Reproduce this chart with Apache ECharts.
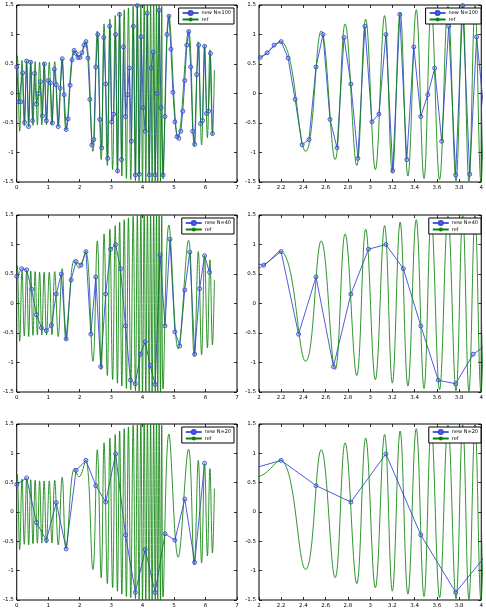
<!DOCTYPE html>
<html>
<head>
<meta charset="utf-8">
<script src="https://cdn.jsdelivr.net/npm/echarts@6/dist/echarts.min.js"></script>
<style>
html, body { margin: 0; padding: 0; background: #fff; }
#main { width: 486px; height: 609px; }
</style>
</head>
<body>
<div id="main"></div>
<script>
// sample positions and values of the "new" curves
var x100 = [0, 0.063, 0.126, 0.188, 0.251, 0.314, 0.377, 0.440, 0.503, 0.565,
    0.628, 0.691, 0.754, 0.817, 0.880, 0.942, 1.005, 1.068, 1.131, 1.194,
    1.257, 1.319, 1.382, 1.445, 1.508, 1.571, 1.634, 1.696, 1.759, 1.822,
    1.885, 1.948, 2.011, 2.073, 2.136, 2.199, 2.262, 2.325, 2.388, 2.450,
    2.513, 2.576, 2.639, 2.702, 2.765, 2.827, 2.890, 2.953, 3.016, 3.079,
    3.142, 3.204, 3.267, 3.330, 3.393, 3.456, 3.519, 3.581, 3.644, 3.707,
    3.770, 3.833, 3.896, 3.958, 4.021, 4.084, 4.147, 4.210, 4.273, 4.335,
    4.398, 4.461, 4.524, 4.587, 4.650, 4.712, 4.775, 4.838, 4.901, 4.964,
    5.027, 5.089, 5.152, 5.215, 5.278, 5.341, 5.404, 5.466, 5.529, 5.592,
    5.655, 5.718, 5.781, 5.843, 5.906, 5.969, 6.032, 6.095, 6.158, 6.220];
var y100 = [0.45, -0.14, -0.14, 0.35, -0.49, 0.55, -0.56, 0.53, -0.46, 0.34,
    -0.18, 0.0, 0.2, -0.38, 0.5, -0.46, 0.22, 0.18, -0.5, 0.41,
    0.15, -0.56, 0.09, 0.59, -0.02, -0.61, -0.43, 0.14, 0.57, 0.73,
    0.68, 0.61, 0.61, 0.69, 0.82, 0.88, 0.6, -0.1, -0.87, -0.78,
    0.45, 1.0, -0.44, -0.92, 0.95, 0.16, -1.1, 1.14, -0.48, -0.35,
    1.0, -1.31, 1.34, -1.12, 0.79, -0.39, -0.02, 0.43, -0.81, 1.14,
    -1.38, 1.49, -1.37, 0.96, -0.24, -0.64, 1.36, -1.38, 0.43, 0.7,
    -1.38, 0.0, 1.41, -0.24, -1.38, -0.39, 1.0, 1.31, 0.75, 0.02,
    -0.48, -0.73, -0.76, -0.64, -0.3, 0.22, 0.82, 1.05, 0.45, -0.64,
    -0.86, 0.32, 0.82, -0.51, -0.46, 0.8, -0.34, -0.3, 0.68, -0.68];

var x40 = [0, 0.157, 0.314, 0.471, 0.628, 0.785, 0.942, 1.100, 1.257, 1.414,
    1.571, 1.728, 1.885, 2.042, 2.199, 2.356, 2.513, 2.670, 2.827, 2.985,
    3.142, 3.299, 3.456, 3.613, 3.770, 3.927, 4.084, 4.241, 4.398, 4.555,
    4.712, 4.869, 5.027, 5.184, 5.341, 5.498, 5.655, 5.812, 5.969, 6.126];
var y40 = [0.46, 0.59, 0.57, 0.24, -0.19, -0.41, -0.46, -0.37, 0.16, 0.5,
    -0.6, 0.4, 0.71, 0.65, 0.88, -0.52, 0.45, -1.07, 0.16, 0.92,
    1.0, 0.59, -0.38, -1.3, -1.36, -0.86, -0.65, -1.05, -1.37, 0.82,
    -0.38, 1.09, -0.48, -0.72, 0.23, 0.87, -0.86, 0.25, 0.81, 0.53];

var x20 = [0, 0.314, 0.628, 0.942, 1.257, 1.571, 1.885, 2.199, 2.513, 2.827,
    3.142, 3.456, 3.770, 4.084, 4.398, 4.712, 5.027, 5.341, 5.655, 5.969];
var y20 = [0.47, 0.58, -0.18, -0.48, 0.16, -0.63, 0.71, 0.88, 0.45, 0.17,
    0.99, -0.39, -1.37, -0.64, -1.37, -0.37, -0.48, 0.22, -0.86, 0.83];

// ref curve, read as its turning points
var refX = [0, 0.016, 0.094, 0.168, 0.240, 0.314, 0.380, 0.446, 0.516, 0.585,
    0.656, 0.727, 0.798, 0.870, 0.946, 1.035, 1.119, 1.207, 1.319, 1.445,
    1.567, 1.83, 1.98, 2.19, 2.42, 2.56, 2.685, 2.775, 2.88, 2.96,
    3.047, 3.13, 3.2, 3.27, 3.34, 3.415, 3.485, 3.55, 3.625, 3.70,
    3.773, 3.833, 3.889, 3.944, 3.997, 4.05, 4.102, 4.153, 4.209, 4.255,
    4.303, 4.352, 4.402, 4.441, 4.482, 4.526, 4.568, 4.609, 4.650, 4.835,
    5.13, 5.46, 5.64, 5.77, 5.875, 5.97, 6.06, 6.14, 6.22, 6.283];
var refY = [0.52, 0.64, -0.64, 0.56, -0.55, 0.56, -0.56, 0.55, -0.54, 0.54,
    -0.53, 0.53, -0.53, 0.53, -0.53, 0.53, -0.53, 0.54, -0.56, 0.59,
    -0.62, 0.74, 0.6, 0.885, -0.98, 1.06, -1.12, 1.18, -1.22, 1.26,
    -1.29, 1.32, -1.35, 1.38, -1.4, 1.42, -1.44, 1.45, -1.46, 1.48,
    -1.48, 1.49, -1.49, 1.5, -1.5, 1.5, -1.5, 1.5, -1.5, 1.5,
    -1.5, 1.5, -1.5, 1.5, -1.5, 1.5, -1.5, 1.48, -1.45, 1.33,
    -0.77, 1.07, -0.9, 0.88, -0.87, 0.82, -0.75, 0.74, -0.7, 0.4];

var panelNames = ['new N=100', 'new N=100', 'new N=40', 'new N=40', 'new N=20', 'new N=20'];
var panelX = [x100, x100, x40, x40, x20, x20];
var panelY = [y100, y100, y40, y40, y20, y20];

var colLeft = [12, 259];
var rowTop = [5, 215, 424];
var plotW = 225;
var plotH = 177;

var font = 'DejaVu Sans';

function pairs(xs, ys) {
    var out = [];
    for (var i = 0; i < xs.length; i++) {
        out.push([xs[i], ys[i]]);
    }
    return out;
}

var myChart = echarts.init(document.getElementById('main'));

function getOption() {
    var grids = [], xAxes = [], yAxes = [], series = [], legends = [];
    var refData = pairs(refX, refY);

    for (var g = 0; g < 6; g++) {
        var row = Math.floor(g / 2);
        var col = g % 2;
        var left = colLeft[col];
        var top = rowTop[row];

        grids.push({
            left: left,
            top: top,
            width: plotW,
            height: plotH,
            show: true,
            borderColor: '#000',
            borderWidth: 1,
            backgroundColor: '#fff'
        });

        var xmin = col == 0 ? 0 : 2;
        var xmax = col == 0 ? 7 : 4;
        var xint = col == 0 ? 1 : 0.2;

        var tick = { show: true, inside: true, length: 3, lineStyle: { color: '#000', width: 0.8 } };

        // bottom axis with labels, top axis only ticks
        xAxes.push({
            type: 'value', gridIndex: g, min: xmin, max: xmax, interval: xint,
            position: 'bottom',
            axisLine: { show: false, onZero: false },
            axisTick: tick,
            splitLine: { show: false },
            axisLabel: { color: '#000', fontSize: 5.5, fontFamily: font, margin: 3 }
        });
        xAxes.push({
            type: 'value', gridIndex: g, min: xmin, max: xmax, interval: xint,
            position: 'top',
            axisLine: { show: false, onZero: false },
            axisTick: tick,
            splitLine: { show: false },
            axisLabel: { show: false }
        });
        yAxes.push({
            type: 'value', gridIndex: g, min: -1.5, max: 1.5, interval: 0.5,
            position: 'left',
            axisLine: { show: false, onZero: false },
            axisTick: tick,
            splitLine: { show: false },
            axisLabel: { color: '#000', fontSize: 5.5, fontFamily: font, margin: 3 }
        });
        yAxes.push({
            type: 'value', gridIndex: g, min: -1.5, max: 1.5, interval: 0.5,
            position: 'right',
            axisLine: { show: false, onZero: false },
            axisTick: tick,
            splitLine: { show: false },
            axisLabel: { show: false }
        });

        series.push({
            name: panelNames[g],
            type: 'line',
            xAxisIndex: 2 * g,
            yAxisIndex: 2 * g,
            data: pairs(panelX[g], panelY[g]),
            symbol: 'circle',
            symbolSize: 4,
            showSymbol: true,
            lineStyle: { color: '#3a4ad8', width: 1, opacity: 0.9 },
            itemStyle: { color: 'rgba(120,140,235,0.3)', borderColor: '#3a4ad8', borderWidth: 0.9 }
        });
        series.push({
            name: 'ref',
            type: 'line',
            xAxisIndex: 2 * g,
            yAxisIndex: 2 * g,
            data: refData,
            smooth: 0.4,
            symbol: 'none',
            lineStyle: { color: '#0a820a', width: 0.85 },
            itemStyle: { color: '#0a820a' }
        });

        legends.push({
            data: [panelNames[g], 'ref'],
            orient: 'vertical',
            right: 486 - (left + plotW) + 3,
            top: top + 3,
            itemWidth: 16,
            itemHeight: 5,
            itemGap: 1,
            padding: [2, 3, 2, 3],
            borderColor: '#000',
            borderWidth: 1,
            borderRadius: 0,
            backgroundColor: '#fff',
            selectedMode: false,
            textStyle: { fontSize: 5, fontFamily: font, color: '#000', padding: [0, 0, 0, -2] }
        });
    }

    return {
        animation: false,
        backgroundColor: '#fff',
        grid: grids,
        xAxis: xAxes,
        yAxis: yAxes,
        legend: legends,
        series: series
    };
}

myChart.setOption(getOption());
</script>
</body>
</html>
